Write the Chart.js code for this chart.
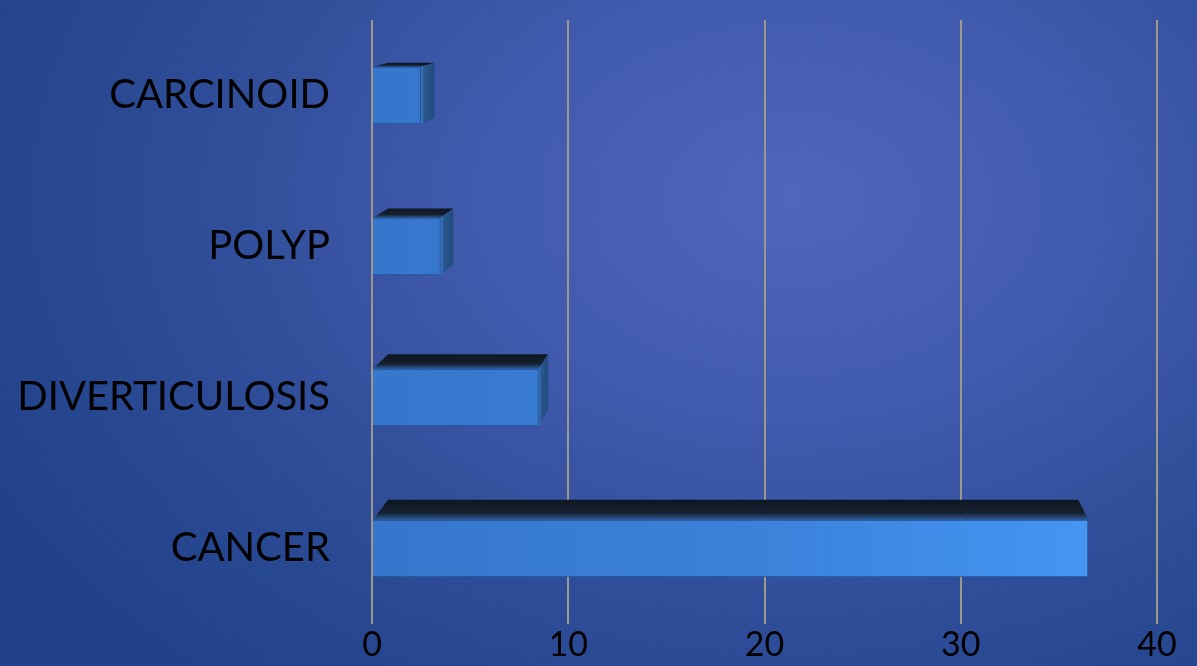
<!DOCTYPE html>
<html>
<head>
<meta charset="utf-8">
<script src="https://cdn.jsdelivr.net/npm/chart.js@4"></script>
<style>
  html, body { margin: 0; padding: 0; }
  body {
    width: 1197px; height: 666px; overflow: hidden;
    background: radial-gradient(ellipse 75% 95% at 66% 30%, #4e66bb 0%, #405aad 35%, #2f4d98 65%, #21418a 100%);
  }
  #wrap { position: relative; width: 1197px; height: 666px; }
</style>
</head>
<body>
<div id="wrap"><canvas id="chart" width="1197" height="666"></canvas></div>
<script>
// Findings by category
const categories = ['CARCINOID', 'POLYP', 'DIVERTICULOSIS', 'CANCER'];
const counts = [2.5, 3.5, 8.5, 36.5];
const xTicks = [0, 10, 20, 30, 40];

const FONT = 'Lato, "Open Sans", sans-serif';

// Extrudes each bar toward a vanishing point to give it a top and side face
const extrude = {
  id: 'extrude',
  afterDatasetsDraw(chart) {
    const { ctx, chartArea: ca } = chart;
    const vx = ca.left + 0.55 * (ca.right - ca.left);
    const vy = ca.top - 70;
    const k = 0.035;
    const back = (px, py) => [px + (vx - px) * k, py + (vy - py) * k];
    chart.getDatasetMeta(0).data.forEach(bar => {
      const p = bar.getProps(['x', 'y', 'base', 'height'], true);
      const L = Math.min(p.base, p.x), R = Math.max(p.base, p.x);
      const T = p.y - p.height / 2, B = p.y + p.height / 2;
      const [lt, ltY] = back(L, T);
      const [rt, rtY] = back(R, T);
      const [rb, rbY] = back(R, B);
      ctx.save();
      // top face
      const g = ctx.createLinearGradient(0, Math.min(ltY, rtY), 0, T);
      g.addColorStop(0, '#0e1622');
      g.addColorStop(0.65, '#15202f');
      g.addColorStop(1, '#2c5a97');
      ctx.beginPath();
      ctx.moveTo(L, T); ctx.lineTo(R, T); ctx.lineTo(rt, rtY); ctx.lineTo(lt, ltY);
      ctx.closePath();
      ctx.fillStyle = g;
      ctx.fill();
      // right side face, visible only left of the vanishing point
      if (rt > R) {
        const s = ctx.createLinearGradient(R, 0, rt, 0);
        s.addColorStop(0, '#3a7cc8');
        s.addColorStop(0.25, '#29578f');
        s.addColorStop(1, '#224b7e');
        ctx.beginPath();
        ctx.moveTo(R, T); ctx.lineTo(rt, rtY); ctx.lineTo(rb, rbY); ctx.lineTo(R, B);
        ctx.closePath();
        ctx.fillStyle = s;
        ctx.fill();
      }
      ctx.restore();
    });
  }
};

new Chart(document.getElementById('chart'), {
  type: 'bar',
  data: {
    labels: categories,
    datasets: [{
      data: counts,
      backgroundColor(c) {
        const ca = c.chart.chartArea;
        if (!ca) return '#3a7fd5';
        const g = c.chart.ctx.createLinearGradient(ca.left, 0, ca.right, 0);
        g.addColorStop(0, '#3676cc');
        g.addColorStop(0.5, '#3b82da');
        g.addColorStop(1, '#4699fa');
        return g;
      },
      borderColor: '#1f4f8c',
      borderWidth: 1,
      barPercentage: 0.38,
      categoryPercentage: 1
    }]
  },
  options: {
    indexAxis: 'y',
    responsive: false,
    animation: false,
    devicePixelRatio: 1,
    layout: { padding: { left: 12, right: 40, top: 0, bottom: 0 } },
    plugins: { legend: { display: false }, tooltip: { enabled: false } },
    scales: {
      x: {
        min: 0,
        max: 40,
        afterBuildTicks(axis) { axis.ticks = xTicks.map(v => ({ value: v })); },
        grid: { color: '#9d988b', lineWidth: 2, drawTicks: false },
        border: { display: false },
        ticks: { color: '#000', padding: 4, font: { family: FONT, size: 34, lineHeight: 1 } }
      },
      y: {
        afterFit(scale) {
          scale.width = 360;
          scale.paddingTop = 20;
          scale.paddingBottom = 0;
        },
        grid: { display: false, drawTicks: false },
        border: { display: false },
        ticks: { color: '#000', padding: 42, font: { family: FONT, size: 40, lineHeight: 1 } }
      }
    }
  },
  plugins: [extrude]
});
</script>
</body>
</html>
